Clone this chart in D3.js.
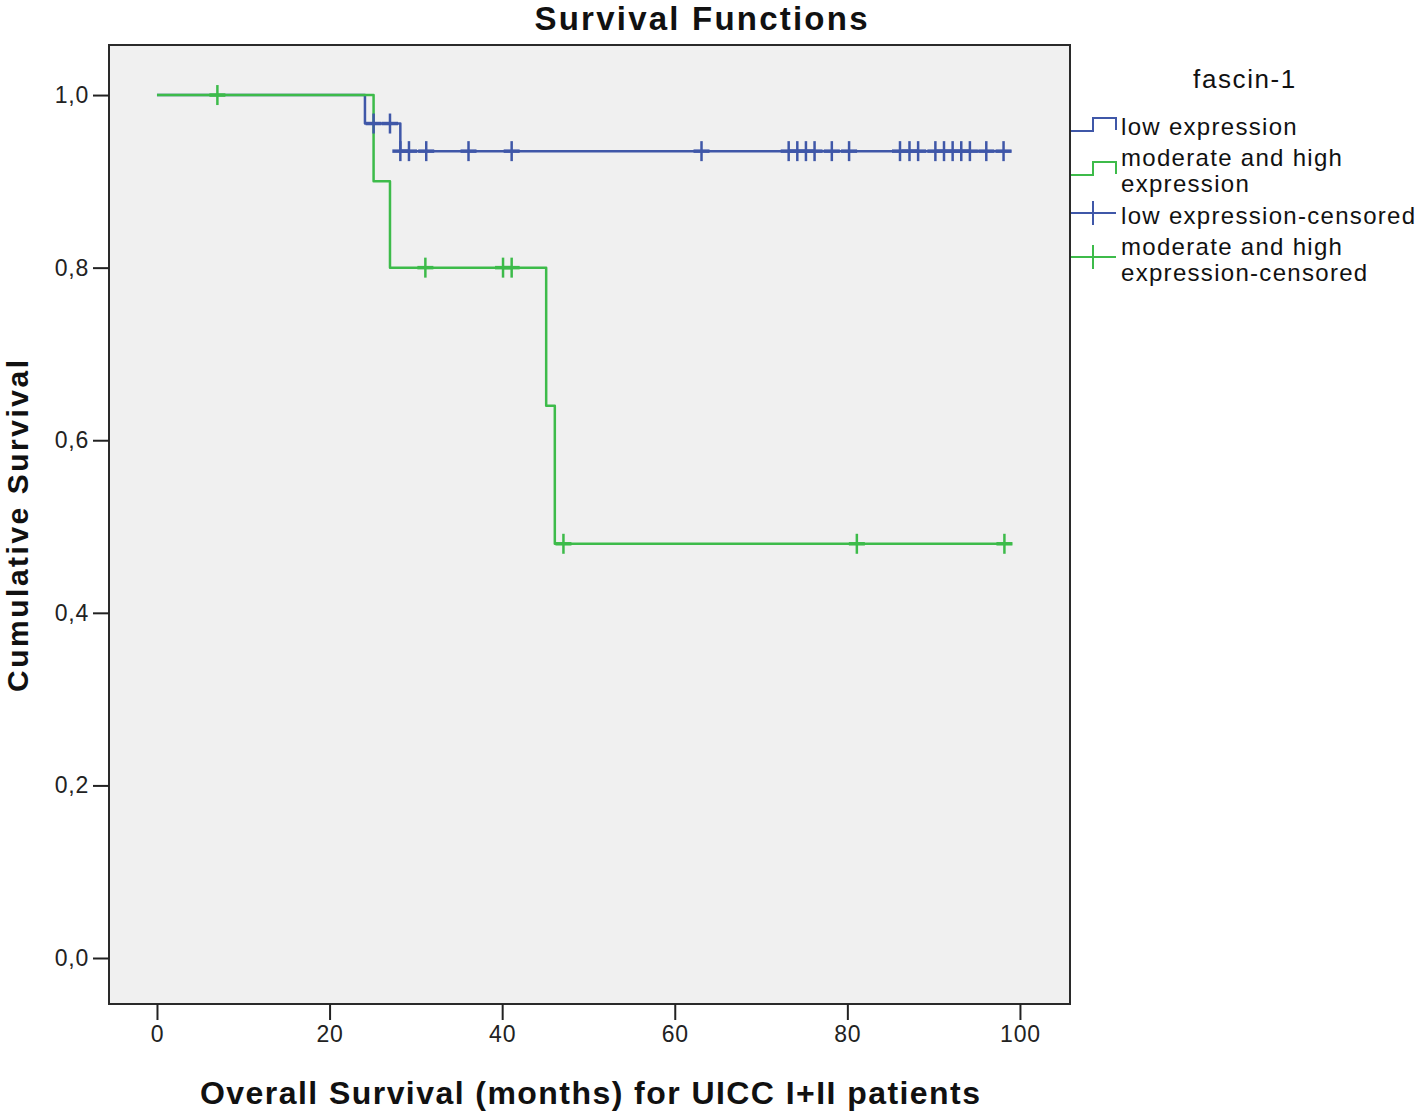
<!DOCTYPE html>
<html><head><meta charset="utf-8">
<script src="https://cdn.jsdelivr.net/npm/d3@7"></script>
<style>body{margin:0;background:#fff}svg{display:block}</style>
</head><body>
<script>
// ---- data ----
const groups = ["low expression", "moderate and high expression"];
const lowStepTimes = [0, 24.1, 28.2];
const lowStepSurv = [1.0, 0.967, 0.935];
const lowEnd = 99.0;
const lowCensored = [25.1, 27.0, 28.2, 29.2, 31.2, 36.1, 41.1, 63.1, 73.2, 74.2, 75.2, 76.2, 78.2, 80.2, 86.1, 87.2, 88.2, 90.2, 91.2, 92.2, 93.2, 94.2, 96.1, 98.1];
const modStepTimes = [0, 25.1, 27.0, 45.1, 46.1];
const modStepSurv = [1.0, 0.90, 0.80, 0.64, 0.48];
const modEnd = 99.1;
const modCensored = [7.0, 31.1, 40.1, 41.1, 47.1, 81.1, 98.2];
const xTicks = [0, 20, 40, 60, 80, 100];
const yTicks = [0, 0.2, 0.4, 0.6, 0.8, 1.0];
const legendLabels = [["low expression"], ["moderate and high", "expression"], ["low expression-censored"], ["moderate and high", "expression-censored"]];

const W = 1418, H = 1115;
const blue = "#3f57a8", green = "#3dbb4a";
const box = {l: 109, r: 1070, t: 45, b: 1004};
const x = d3.scaleLinear().domain([-5.56, 105.8]).range([box.l, box.r]);
const y = d3.scaleLinear().domain([-0.0533, 1.058]).range([box.b, box.t]);

const svg = d3.select("body").append("svg").attr("width", W).attr("height", H)
  .style("font-family", "'Liberation Sans', Arial, sans-serif");

svg.append("rect").attr("x", box.l).attr("y", box.t).attr("width", box.r - box.l).attr("height", box.b - box.t)
  .attr("fill", "#f0f0f0").attr("stroke", "#2a2a2a").attr("stroke-width", 2);

// axes
const yAxis = d3.axisLeft(y).tickValues(yTicks).tickSize(16).tickPadding(4)
  .tickFormat(d => d.toFixed(1).replace(".", ","));
const gy = svg.append("g").attr("transform", `translate(${box.l},0)`).call(yAxis);
const xAxis = d3.axisBottom(x).tickValues(xTicks).tickSize(16).tickPadding(6).tickFormat(d => d);
const gx = svg.append("g").attr("transform", `translate(0,${box.b})`).call(xAxis);
[gy, gx].forEach(g => {
  g.select(".domain").remove();
  g.selectAll("line").attr("stroke", "#222").attr("stroke-width", 2);
  g.selectAll("text").attr("fill", "#222").style("font-size", "23px").style("letter-spacing", "0.8px")
    .style("font-family", "'Liberation Sans', Arial, sans-serif");
});

function stepPoints(times, surv, end) {
  const pts = [];
  for (let i = 0; i < times.length; i++) {
    if (i > 0) pts.push([times[i], surv[i - 1]]);
    pts.push([times[i], surv[i]]);
  }
  pts.push([end, surv[surv.length - 1]]);
  return pts;
}
function survAt(times, surv, t) {
  let s = surv[0];
  for (let i = 0; i < times.length; i++) if (times[i] <= t) s = surv[i];
  return s;
}
const line = d3.line().x(d => x(d[0])).y(d => y(d[1]));

const series = [
  {times: lowStepTimes, surv: lowStepSurv, end: lowEnd, cens: lowCensored, color: blue},
  {times: modStepTimes, surv: modStepSurv, end: modEnd, cens: modCensored, color: green}
];
series.forEach(s => {
  svg.append("path").attr("d", line(stepPoints(s.times, s.surv, s.end)))
    .attr("fill", "none").attr("stroke", s.color).attr("stroke-width", 2.5).attr("stroke-linejoin", "round");
});
series.forEach(s => {
  const g = svg.append("g").attr("stroke", s.color).attr("stroke-width", 2.5);
  s.cens.forEach(t => {
    const cx = x(t), cy = y(survAt(s.times, s.surv, t));
    g.append("line").attr("x1", cx).attr("x2", cx).attr("y1", cy - 10).attr("y2", cy + 10);
    g.append("line").attr("x1", cx - 8).attr("x2", cx + 8).attr("y1", cy).attr("y2", cy).attr("stroke-width", 3.5);
  });
});

// titles
svg.append("text").attr("x", 701).attr("y", 30).attr("text-anchor", "middle")
  .attr("textLength", 333).attr("lengthAdjust", "spacing")
  .style("font-size", "33px").style("font-weight", "bold").attr("fill", "#111").text("Survival Functions");
svg.append("text").attr("x", 590).attr("y", 1104).attr("text-anchor", "middle")
  .attr("textLength", 780).attr("lengthAdjust", "spacing")
  .style("font-size", "32px").style("font-weight", "bold").attr("fill", "#111")
  .text("Overall Survival (months) for UICC I+II patients");
svg.append("text").attr("transform", "translate(28,526) rotate(-90)").attr("text-anchor", "middle")
  .attr("textLength", 332).attr("lengthAdjust", "spacing")
  .style("font-size", "30px").style("font-weight", "bold").attr("fill", "#111").text("Cumulative Survival");

// legend
svg.append("text").attr("x", 1245).attr("y", 88).attr("text-anchor", "middle")
  .style("font-size", "26px").style("letter-spacing", "1.6px").attr("fill", "#111").text("fascin-1");
const entryY = [127, 158, 216, 247];
const lg = svg.append("g");
legendLabels.forEach((lines, i) => {
  lines.forEach((l, j) => {
    lg.append("text").attr("x", 1121).attr("y", entryY[i] + 8 + j * 26)
      .style("font-size", "24px").style("letter-spacing", "1.3px").attr("fill", "#111").text(l);
  });
  const col = i % 2 === 0 ? blue : green;
  const yy = entryY[i] + (lines.length > 1 ? 13 : 0);
  if (i < 2) {
    lg.append("path").attr("d", `M1071,${yy + 4}H1093V${yy - 9}H1116V${yy + 3}`)
      .attr("fill", "none").attr("stroke", col).attr("stroke-width", 2);
  } else {
    lg.append("line").attr("x1", 1071).attr("x2", 1116).attr("y1", yy - 3).attr("y2", yy - 3).attr("stroke", col).attr("stroke-width", 2);
    lg.append("line").attr("x1", 1093).attr("x2", 1093).attr("y1", yy - 15).attr("y2", yy + 9).attr("stroke", col).attr("stroke-width", 2);
  }
});
</script>
</body></html>
